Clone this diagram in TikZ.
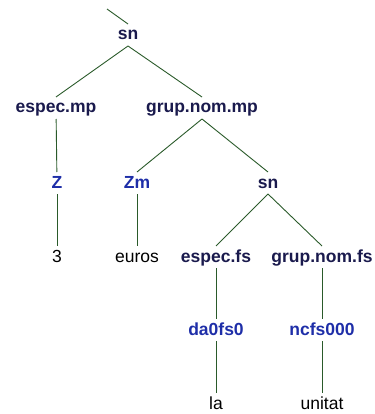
\documentclass[tikz,border=0pt]{standalone}
\usepackage{fontspec}
\setmainfont{Liberation Sans}
\definecolor{ntcol}{HTML}{1A1A4D}
\definecolor{tagcol}{HTML}{1E2EA8}
\definecolor{edgecol}{HTML}{2A5A2A}

\begin{document}
\begin{tikzpicture}[x=1pt,y=-1pt,
  every node/.style={inner sep=0pt,outer sep=0pt,text height=13pt,text depth=3pt},
  nt/.style={font=\fontsize{17.5}{20}\selectfont\bfseries,text=ntcol,inner ysep=3pt},
  tag/.style={font=\fontsize{17.5}{20}\selectfont\bfseries,text=tagcol,inner ysep=3pt},
  word/.style={font=\fontsize{17.5}{20}\selectfont,text=black,inner ysep=3pt},
  br/.style={draw=edgecol,line width=0.9pt},
]

% canvas
\useasboundingbox (0,0) rectangle (374,414);

% ============================================================
% nodes
% ============================================================
\coordinate (up) at (107,9);
\node[nt]   (sn)      at (128,35)  {sn};

\node[nt]   (especmp) at (56,108)  {espec.mp};
\node[nt]   (grupmp)  at (202,108) {grup.nom.mp};

\node[tag]  (z)       at (57,183)  {Z};
\node[tag]  (zm)      at (137,183) {Zm};
\node[nt]   (snb)     at (268,183) {sn};

\node[word] (tres)    at (57,257)  {3};
\node[word] (euros)   at (137,257) {euros};
\node[nt]   (especfs) at (216,257) {espec.fs};
\node[nt]   (grupfs)  at (322,257) {grup.nom.fs};

\node[tag]  (da)      at (216,330) {da0fs0};
\node[tag]  (nc)      at (322,330) {ncfs000};

\node[word] (la)      at (216,404) {la};
\node[word] (unitat)  at (322,404) {unitat};

% ============================================================
% branches
% ============================================================
\draw[br] (up) -- (sn.north);
\draw[br] (sn.south) -- (especmp.north);
\draw[br] (sn.south) -- (grupmp.north);

\draw[br] (especmp) -- (z);
\draw[br] (z) -- (tres);

\draw[br] (grupmp.south) -- (zm.north);
\draw[br] (grupmp.south) -- (snb.north);
\draw[br] (zm) -- (euros);

\draw[br] (snb.south) -- (especfs.north);
\draw[br] (snb.south) -- (grupfs.north);

\draw[br] (especfs) -- (da);
\draw[br] (da) -- (la);
\draw[br] (grupfs) -- (nc);
\draw[br] (nc) -- (unitat);

\end{tikzpicture}
\end{document}
